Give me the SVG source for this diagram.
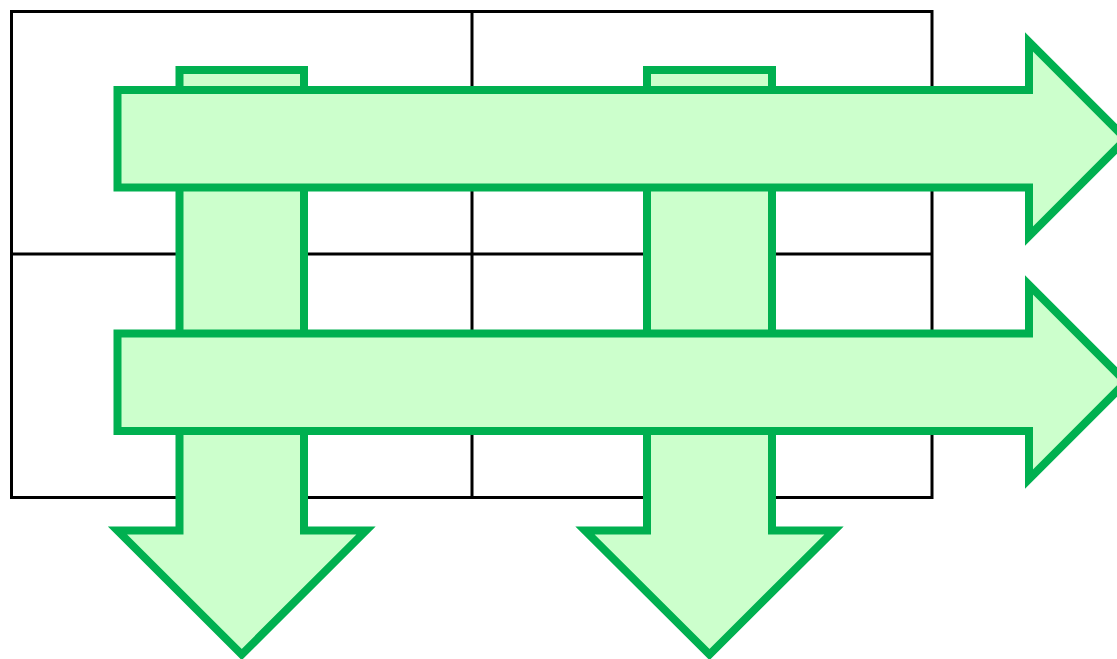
<svg xmlns="http://www.w3.org/2000/svg" width="1117" height="659" viewBox="0 0 1117 659">
<style>
.grid{fill:none;stroke:#000;stroke-width:3}
.arrow{fill:#CCFFCC;stroke:#00B050;stroke-width:8;stroke-linejoin:miter;stroke-miterlimit:10}
</style>
<rect width="1117" height="659" fill="#fff"/>
<g id="grid">
<rect class="grid" x="11.5" y="11.5" width="920.5" height="486"/>
<line class="grid" x1="472" y1="11.5" x2="472" y2="497.5"/>
<line class="grid" x1="11.5" y1="254" x2="932" y2="254"/>
</g>
<g id="connectors">
<g id="arrow-down-left"><path class="arrow" d="M179.5,70 H304 V530.5 H366 L241.75,654.5 L117.5,530.5 H179.5 Z"/></g>
<g id="arrow-down-right"><path class="arrow" d="M647,70 H772 V530.5 H834 L709.5,654.5 L585,530.5 H647 Z"/></g>
<g id="arrow-right-top"><path class="arrow" d="M117.5,90 H1029 V42 L1126,139 L1029,236 V187.5 H117.5 Z"/></g>
<g id="arrow-right-bottom"><path class="arrow" d="M117.5,333.5 H1029 V285 L1126,382 L1029,479 V431 H117.5 Z"/></g>
</g>
</svg>
